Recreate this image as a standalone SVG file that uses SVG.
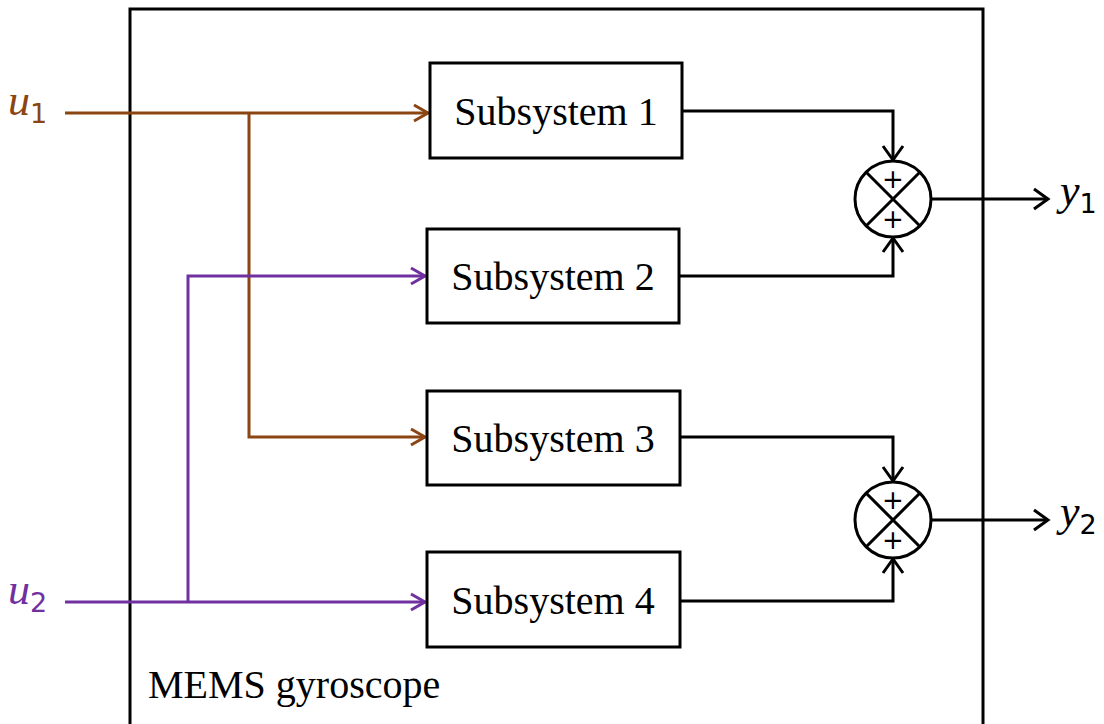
<svg xmlns="http://www.w3.org/2000/svg" width="1104" height="724" viewBox="0 0 1104 724">
<style>
.box{fill:#fff;stroke:#000;stroke-width:3}
.lbl{font-family:"Liberation Serif","DejaVu Serif",serif;font-size:40px;fill:#000;text-anchor:middle}
.w{fill:none;stroke-width:3;stroke-linejoin:miter}
.k{stroke:#000}.br{stroke:#8B4513}.pu{stroke:#7030A0}
.math{font-family:"Liberation Serif","DejaVu Serif",serif;font-style:italic;font-size:44px}
.sub{font-family:"DejaVu Sans",sans-serif;font-size:27px;font-style:normal}
.plus{font-family:"DejaVu Sans",sans-serif;font-size:26px;text-anchor:middle;fill:#000}
</style>
<defs>
<marker id="ak" markerUnits="userSpaceOnUse" markerWidth="30" markerHeight="30" refX="0" refY="0" orient="auto" overflow="visible" viewBox="-20 -15 30 30"><path d="M-14,-10 L0,0 L-14,10" fill="none" stroke="#000" stroke-width="3"/></marker>
<marker id="ab" markerUnits="userSpaceOnUse" markerWidth="30" markerHeight="30" refX="0" refY="0" orient="auto" overflow="visible" viewBox="-20 -15 30 30"><path d="M-14,-8 L0,0 L-14,8" fill="none" stroke="#8B4513" stroke-width="3"/></marker>
<marker id="ap" markerUnits="userSpaceOnUse" markerWidth="30" markerHeight="30" refX="0" refY="0" orient="auto" overflow="visible" viewBox="-20 -15 30 30"><path d="M-14,-8 L0,0 L-14,8" fill="none" stroke="#7030A0" stroke-width="3"/></marker>
</defs>
<g id="mems">
<rect x="130" y="9" width="853" height="740" fill="none" stroke="#000" stroke-width="3"/>
<text x="148" y="698" font-family="'Liberation Serif','DejaVu Serif',serif" font-size="40">MEMS gyroscope</text>
</g>
<g id="connectors">
<path class="w br" d="M65,113 H428" marker-end="url(#ab)"/>
<path class="w br" d="M249,113 V437 H425" marker-end="url(#ab)"/>
<path class="w pu" d="M65,602 H425" marker-end="url(#ap)"/>
<path class="w pu" d="M188,602 V276 H425" marker-end="url(#ap)"/>
<path class="w k" d="M682,111 H893 V160" marker-end="url(#ak)"/>
<path class="w k" d="M679,276 H893 V238" marker-end="url(#ak)"/>
<path class="w k" d="M680,437 H893 V481" marker-end="url(#ak)"/>
<path class="w k" d="M680,601 H893 V559" marker-end="url(#ak)"/>
<path class="w k" d="M931,199 H1048" marker-end="url(#ak)"/>
<path class="w k" d="M931,520 H1048" marker-end="url(#ak)"/>
</g>
<g id="sub1"><rect class="box" x="430" y="63" width="252" height="95"/><text class="lbl" x="556" y="125">Subsystem 1</text></g>
<g id="sub2"><rect class="box" x="427" y="229" width="252" height="94"/><text class="lbl" x="553" y="290">Subsystem 2</text></g>
<g id="sub3"><rect class="box" x="427" y="391" width="253" height="94"/><text class="lbl" x="553" y="452">Subsystem 3</text></g>
<g id="sub4"><rect class="box" x="427" y="552" width="253" height="95"/><text class="lbl" x="553" y="614">Subsystem 4</text></g>
<g id="sum1">
<circle cx="893" cy="199" r="38" fill="#fff" stroke="#000" stroke-width="3"/>
<path d="M866,172 L920,226 M920,172 L866,226" stroke="#000" stroke-width="3"/>
<text class="plus" x="893" y="188">+</text>
<text class="plus" x="893" y="228">+</text>
</g>
<g id="sum2">
<circle cx="893" cy="520" r="38" fill="#fff" stroke="#000" stroke-width="3"/>
<path d="M866,493 L920,547 M920,493 L866,547" stroke="#000" stroke-width="3"/>
<text class="plus" x="893" y="509">+</text>
<text class="plus" x="893" y="549">+</text>
</g>
<g id="u1"><text class="math" x="8" y="115" fill="#8B4513">u<tspan class="sub" dy="8" fill="#8B4513">1</tspan></text></g>
<g id="u2"><text class="math" x="8" y="604" fill="#7030A0">u<tspan class="sub" dy="8" fill="#7030A0">2</tspan></text></g>
<g id="y1"><text class="math" x="1060" y="205" fill="#000">y<tspan class="sub" dy="8">1</tspan></text></g>
<g id="y2"><text class="math" x="1060" y="526" fill="#000">y<tspan class="sub" dy="8">2</tspan></text></g>
</svg>
